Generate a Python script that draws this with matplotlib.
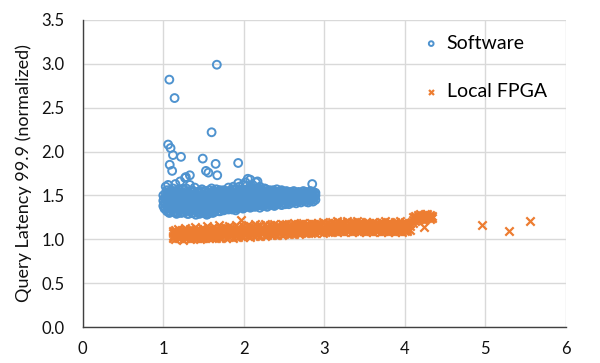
import matplotlib
matplotlib.use('Agg')
import matplotlib.pyplot as plt

plt.rcParams['font.family'] = ['Lato', 'DejaVu Sans']

# Software: dense band, one list of y values per x column
sw_cols = [1.00, 1.03, 1.06, 1.09, 1.12, 1.15, 1.18, 1.21, 1.24, 1.27,
           1.30, 1.33, 1.36, 1.39, 1.42, 1.45, 1.48, 1.51, 1.54, 1.57,
           1.60, 1.63, 1.66, 1.69, 1.72, 1.75, 1.78, 1.81, 1.84, 1.87,
           1.90, 1.93, 1.96, 1.99, 2.02, 2.05, 2.08, 2.11, 2.14, 2.17,
           2.20, 2.23, 2.26, 2.29, 2.32, 2.35, 2.38, 2.41, 2.44, 2.47,
           2.50, 2.53, 2.56, 2.59, 2.62, 2.65, 2.68, 2.71, 2.74, 2.77,
           2.80, 2.83, 2.86, 2.89]
sw_vals = [
    [1.38, 1.44, 1.50], [1.35, 1.41, 1.47, 1.53, 1.60], [1.33, 1.39, 1.45, 1.51, 1.62],
    [1.31, 1.37, 1.43, 1.49, 1.55], [1.34, 1.40, 1.46, 1.52, 1.58], [1.32, 1.38, 1.44, 1.50, 1.63],
    [1.30, 1.36, 1.42, 1.48, 1.54], [1.33, 1.39, 1.45, 1.51, 1.66], [1.31, 1.37, 1.43, 1.49, 1.57],
    [1.34, 1.40, 1.46, 1.52, 1.70], [1.29, 1.35, 1.41, 1.47, 1.55], [1.32, 1.38, 1.44, 1.50, 1.62],
    [1.30, 1.36, 1.42, 1.48, 1.56], [1.33, 1.39, 1.45, 1.51, 1.59], [1.31, 1.37, 1.43, 1.49, 1.54],
    [1.29, 1.35, 1.41, 1.47, 1.53], [1.32, 1.38, 1.44, 1.50, 1.57], [1.30, 1.36, 1.42, 1.48, 1.55],
    [1.28, 1.34, 1.40, 1.46, 1.52], [1.31, 1.37, 1.43, 1.49, 1.56], [1.33, 1.39, 1.45, 1.51, 1.58],
    [1.31, 1.37, 1.43, 1.49, 1.54], [1.34, 1.40, 1.46, 1.52, 1.57], [1.32, 1.38, 1.44, 1.50, 1.55],
    [1.35, 1.41, 1.47, 1.53], [1.33, 1.39, 1.45, 1.51, 1.56], [1.36, 1.42, 1.48, 1.54],
    [1.34, 1.40, 1.46, 1.52, 1.59], [1.37, 1.43, 1.49, 1.55], [1.35, 1.41, 1.47, 1.53, 1.60],
    [1.33, 1.39, 1.45, 1.51, 1.57], [1.36, 1.42, 1.48, 1.54, 1.64], [1.38, 1.44, 1.50, 1.56],
    [1.35, 1.41, 1.47, 1.53, 1.62], [1.37, 1.43, 1.49, 1.55, 1.65], [1.39, 1.45, 1.51, 1.57],
    [1.36, 1.42, 1.48, 1.54, 1.68], [1.38, 1.44, 1.50, 1.56, 1.62], [1.37, 1.43, 1.49, 1.55],
    [1.39, 1.45, 1.51, 1.57, 1.66], [1.36, 1.42, 1.48, 1.54, 1.60], [1.38, 1.44, 1.50, 1.56],
    [1.40, 1.46, 1.52, 1.58], [1.37, 1.43, 1.49, 1.55], [1.39, 1.45, 1.51, 1.56],
    [1.41, 1.47, 1.53], [1.38, 1.44, 1.50, 1.55], [1.40, 1.46, 1.52, 1.57],
    [1.42, 1.48, 1.54], [1.39, 1.45, 1.51, 1.56], [1.41, 1.47, 1.53],
    [1.43, 1.49, 1.55], [1.40, 1.46, 1.52], [1.42, 1.48, 1.54],
    [1.44, 1.50, 1.55], [1.41, 1.47, 1.53], [1.43, 1.49, 1.54],
    [1.42, 1.48, 1.53], [1.44, 1.50, 1.55], [1.43, 1.49, 1.54],
    [1.42, 1.48, 1.53], [1.44, 1.50, 1.55], [1.43, 1.49, 1.54],
    [1.45, 1.50, 1.53],
]
# Software: in-between columns of the same band
sw_cols2 = [1.015, 1.045, 1.075, 1.105, 1.135, 1.165, 1.195, 1.225, 1.255, 1.285,
            1.315, 1.345, 1.375, 1.405, 1.435, 1.465, 1.495, 1.525, 1.555, 1.585,
            1.615, 1.645, 1.675, 1.705, 1.735, 1.765, 1.795, 1.825, 1.855, 1.885,
            1.915, 1.945, 1.975, 2.005, 2.035, 2.065, 2.095, 2.125, 2.155, 2.185,
            2.215, 2.245, 2.275, 2.305, 2.335, 2.365, 2.395, 2.425, 2.455, 2.485,
            2.515, 2.545, 2.575, 2.605, 2.635, 2.665, 2.695, 2.725, 2.755, 2.785,
            2.815, 2.845, 2.875]
sw_vals2 = [
    [1.35, 1.41, 1.47], [1.32, 1.38, 1.44, 1.50, 1.56], [1.30, 1.36, 1.42, 1.48, 1.54],
    [1.34, 1.40, 1.46, 1.52], [1.31, 1.37, 1.43, 1.49, 1.55], [1.29, 1.35, 1.41, 1.47, 1.53],
    [1.33, 1.39, 1.45, 1.51, 1.57], [1.30, 1.36, 1.42, 1.48, 1.54], [1.34, 1.40, 1.46, 1.52],
    [1.32, 1.38, 1.44, 1.50, 1.58], [1.29, 1.35, 1.41, 1.47, 1.53], [1.33, 1.39, 1.45, 1.51],
    [1.30, 1.36, 1.42, 1.48, 1.54], [1.28, 1.34, 1.40, 1.46, 1.52], [1.32, 1.38, 1.44, 1.50],
    [1.30, 1.36, 1.42, 1.48, 1.55], [1.33, 1.39, 1.45, 1.51], [1.31, 1.37, 1.43, 1.49, 1.55],
    [1.29, 1.35, 1.41, 1.47, 1.53], [1.34, 1.40, 1.46, 1.52], [1.30, 1.36, 1.42, 1.48, 1.55],
    [1.33, 1.39, 1.45, 1.51], [1.35, 1.41, 1.47, 1.53], [1.32, 1.38, 1.44, 1.50, 1.56],
    [1.36, 1.42, 1.48, 1.54], [1.34, 1.40, 1.46, 1.52], [1.37, 1.43, 1.49, 1.55],
    [1.35, 1.41, 1.47, 1.53], [1.34, 1.40, 1.46, 1.52, 1.57], [1.38, 1.44, 1.50, 1.56],
    [1.35, 1.41, 1.47, 1.53], [1.37, 1.43, 1.49, 1.55, 1.60], [1.39, 1.45, 1.51, 1.57],
    [1.36, 1.42, 1.48, 1.54], [1.38, 1.44, 1.50, 1.56, 1.61], [1.40, 1.46, 1.52, 1.58],
    [1.37, 1.43, 1.49, 1.55], [1.40, 1.46, 1.52, 1.58], [1.38, 1.44, 1.50, 1.56],
    [1.40, 1.46, 1.52, 1.58], [1.39, 1.45, 1.51, 1.57], [1.41, 1.47, 1.53],
    [1.39, 1.45, 1.51, 1.57], [1.41, 1.47, 1.53], [1.42, 1.48, 1.54],
    [1.39, 1.45, 1.51, 1.56], [1.42, 1.48, 1.54], [1.40, 1.46, 1.52],
    [1.43, 1.49, 1.55], [1.42, 1.48, 1.54], [1.40, 1.46, 1.52],
    [1.43, 1.49, 1.54], [1.45, 1.51], [1.42, 1.47, 1.52],
    [1.44, 1.50], [1.45, 1.51], [1.44, 1.50],
    [1.45, 1.51], [1.46, 1.52], [1.45, 1.51],
    [1.46, 1.52], [1.46, 1.51], [1.47, 1.52],
]
# Software: scattered points above the band
sw_out_x = [1.075, 1.14, 1.665, 1.60, 1.06, 1.09, 1.12, 1.22, 1.49, 1.08,
            1.11, 1.65, 1.56, 1.53, 1.67, 1.93, 2.85, 1.28, 1.33, 2.05, 2.15]
sw_out_y = [2.82, 2.61, 2.99, 2.22, 2.08, 2.04, 1.96, 1.94, 1.92, 1.85,
            1.78, 1.86, 1.76, 1.78, 1.73, 1.87, 1.63, 1.71, 1.73, 1.69, 1.65]

# Local FPGA: dense band
fp_cols = [1.12, 1.15, 1.18, 1.21, 1.24, 1.27, 1.30, 1.33, 1.36, 1.39,
           1.42, 1.45, 1.48, 1.51, 1.54, 1.57, 1.60, 1.63, 1.66, 1.69,
           1.72, 1.75, 1.78, 1.81, 1.84, 1.87, 1.90, 1.93, 1.96, 1.99,
           2.02, 2.05, 2.08, 2.11, 2.14, 2.17, 2.20, 2.23, 2.26, 2.29,
           2.32, 2.35, 2.38, 2.41, 2.44, 2.47, 2.50, 2.53, 2.56, 2.59,
           2.62, 2.65, 2.68, 2.71, 2.74, 2.77, 2.80, 2.83, 2.86, 2.89,
           2.92, 2.95, 2.98, 3.01, 3.04, 3.07, 3.10, 3.13, 3.16, 3.19,
           3.22, 3.25, 3.28, 3.31, 3.34, 3.37, 3.40, 3.43, 3.46, 3.49,
           3.52, 3.55, 3.58, 3.61, 3.64, 3.67, 3.70, 3.73, 3.76, 3.79,
           3.82, 3.85, 3.88, 3.91, 3.94, 3.97, 4.00, 4.03, 4.06,
           4.10, 4.13, 4.16, 4.19, 4.22, 4.25, 4.28, 4.31, 4.34]
fp_vals = [
    [1.01, 1.04, 1.07, 1.10], [1.00, 1.05, 1.08, 1.11], [1.02, 1.04, 1.08, 1.12],
    [1.01, 1.05, 1.07, 1.10], [0.99, 1.04, 1.08, 1.11], [1.02, 1.05, 1.09, 1.13],
    [1.01, 1.04, 1.07, 1.11], [1.00, 1.05, 1.08, 1.12], [1.02, 1.06, 1.09, 1.11],
    [1.01, 1.04, 1.08, 1.14], [1.02, 1.05, 1.09, 1.12], [1.00, 1.05, 1.08, 1.11],
    [1.02, 1.06, 1.09, 1.13], [1.01, 1.04, 1.08, 1.12], [1.03, 1.06, 1.10, 1.15],
    [1.02, 1.05, 1.09, 1.12], [1.01, 1.06, 1.10, 1.13], [1.03, 1.06, 1.09, 1.14],
    [1.02, 1.05, 1.10, 1.12], [1.03, 1.07, 1.10, 1.16], [1.02, 1.06, 1.09, 1.13],
    [1.04, 1.07, 1.11, 1.14], [1.02, 1.06, 1.10, 1.13], [1.03, 1.07, 1.11, 1.15],
    [1.04, 1.06, 1.10, 1.14], [1.02, 1.07, 1.11, 1.13], [1.04, 1.08, 1.10, 1.16],
    [1.03, 1.06, 1.11, 1.14], [1.04, 1.07, 1.10, 1.22], [1.03, 1.08, 1.11, 1.15],
    [1.05, 1.07, 1.12, 1.14], [1.04, 1.08, 1.11, 1.16], [1.03, 1.07, 1.12, 1.15],
    [1.05, 1.09, 1.11, 1.14], [1.04, 1.08, 1.12, 1.17], [1.05, 1.07, 1.11, 1.15],
    [1.04, 1.09, 1.12, 1.16], [1.06, 1.08, 1.12, 1.14], [1.04, 1.09, 1.11, 1.17],
    [1.05, 1.08, 1.13, 1.15], [1.06, 1.09, 1.12, 1.16], [1.05, 1.08, 1.13, 1.15],
    [1.06, 1.10, 1.12, 1.18], [1.05, 1.09, 1.13, 1.16], [1.07, 1.09, 1.12, 1.15],
    [1.05, 1.10, 1.13, 1.17], [1.06, 1.09, 1.14, 1.16], [1.07, 1.10, 1.13, 1.18],
    [1.06, 1.10, 1.14, 1.16], [1.07, 1.11, 1.13, 1.17], [1.06, 1.10, 1.14, 1.19],
    [1.08, 1.11, 1.14, 1.16], [1.06, 1.10, 1.15, 1.18], [1.07, 1.11, 1.13, 1.17],
    [1.08, 1.10, 1.14, 1.19], [1.07, 1.11, 1.15, 1.17], [1.08, 1.12, 1.14, 1.18],
    [1.07, 1.11, 1.15, 1.19], [1.08, 1.12, 1.14, 1.17], [1.07, 1.11, 1.15, 1.18],
    [1.09, 1.12, 1.16, 1.19], [1.08, 1.11, 1.15, 1.18], [1.07, 1.12, 1.14, 1.20],
    [1.09, 1.12, 1.16, 1.18], [1.08, 1.11, 1.15, 1.19], [1.09, 1.13, 1.16, 1.18],
    [1.08, 1.12, 1.15, 1.20], [1.09, 1.13, 1.16, 1.19], [1.08, 1.12, 1.17, 1.21],
    [1.10, 1.13, 1.16, 1.19], [1.09, 1.12, 1.16, 1.20], [1.08, 1.13, 1.17, 1.19],
    [1.10, 1.12, 1.16, 1.21], [1.09, 1.13, 1.17, 1.19], [1.08, 1.12, 1.16, 1.20],
    [1.10, 1.13, 1.17, 1.19], [1.09, 1.12, 1.16, 1.21], [1.08, 1.13, 1.16, 1.19],
    [1.10, 1.12, 1.17, 1.20], [1.09, 1.13, 1.16, 1.18], [1.08, 1.12, 1.16, 1.20],
    [1.10, 1.13, 1.17, 1.19], [1.09, 1.12, 1.16, 1.18], [1.08, 1.13, 1.17, 1.20],
    [1.10, 1.12, 1.16, 1.19], [1.09, 1.13, 1.17, 1.18], [1.08, 1.12, 1.16, 1.20],
    [1.10, 1.13, 1.16, 1.19], [1.09, 1.12, 1.17, 1.21], [1.08, 1.13, 1.16, 1.19],
    [1.10, 1.13, 1.17, 1.20], [1.09, 1.12, 1.16, 1.18], [1.08, 1.13, 1.17, 1.20],
    [1.10, 1.12, 1.16, 1.19], [1.09, 1.13, 1.17, 1.21], [1.08, 1.12, 1.16, 1.19],
    [1.10, 1.13, 1.17, 1.20], [1.09, 1.12, 1.16], [1.11, 1.15, 1.19],
    [1.19, 1.22, 1.25], [1.21, 1.24, 1.27], [1.22, 1.25, 1.28],
    [1.23, 1.26, 1.29], [1.22, 1.25, 1.28], [1.23, 1.26, 1.29],
    [1.24, 1.27, 1.29], [1.23, 1.26, 1.28], [1.24, 1.27],
]
fp_out_x = [4.24, 4.96, 5.30, 5.55]
fp_out_y = [1.14, 1.16, 1.10, 1.21]

sw_x = ([x for x, ys in zip(sw_cols, sw_vals) for _ in ys]
        + [x for x, ys in zip(sw_cols2, sw_vals2) for _ in ys] + sw_out_x)
sw_y = [y for ys in sw_vals for y in ys] + [y for ys in sw_vals2 for y in ys] + sw_out_y
fp_x = [x for x, ys in zip(fp_cols, fp_vals) for _ in ys] + fp_out_x
fp_y = [y for ys in fp_vals for y in ys] + fp_out_y

blue = '#4F93CF'
orange = '#ED7D31'

fig = plt.figure(figsize=(6, 3.63), dpi=100)
ax = fig.add_axes([0.138, 0.099, 0.805, 0.846])

ax.scatter(sw_x, sw_y, s=32, facecolors='none', edgecolors=blue, linewidths=1.4,
           label='Software', zorder=3)
ax.scatter(fp_x, fp_y, s=36, marker='x', color=orange, linewidths=1.6,
           label='Local FPGA', zorder=3)

ax.set_xlim(0, 6)
ax.set_ylim(0, 3.5)
ax.set_xticks(range(0, 7))
ax.set_yticks([0, 0.5, 1.0, 1.5, 2.0, 2.5, 3.0, 3.5])
ax.set_yticklabels(['0.0', '0.5', '1.0', '1.5', '2.0', '2.5', '3.0', '3.5'])
ax.tick_params(length=0, labelsize=12, colors='#111111')
ax.tick_params(axis='x', pad=10)
ax.tick_params(axis='y', pad=13)
ax.grid(True, color='#D9D9D9', linewidth=1.0, zorder=0)
ax.set_axisbelow(True)
for side in ['top', 'right']:
    ax.spines[side].set_visible(False)
for side in ['left', 'bottom']:
    ax.spines[side].set_color('#404040')
    ax.spines[side].set_linewidth(1.0)

ax.set_ylabel('Query Latency 99.9 (normalized)', fontsize=13, color='#111111', labelpad=7)

ax.legend(loc='upper right', frameon=False, fontsize=14, markerscale=0.6,
          handlelength=0.8, handletextpad=0.4, labelspacing=1.6, borderaxespad=0.2,
          bbox_to_anchor=(0.985, 0.99))

fig.savefig('out.png', dpi=100)
